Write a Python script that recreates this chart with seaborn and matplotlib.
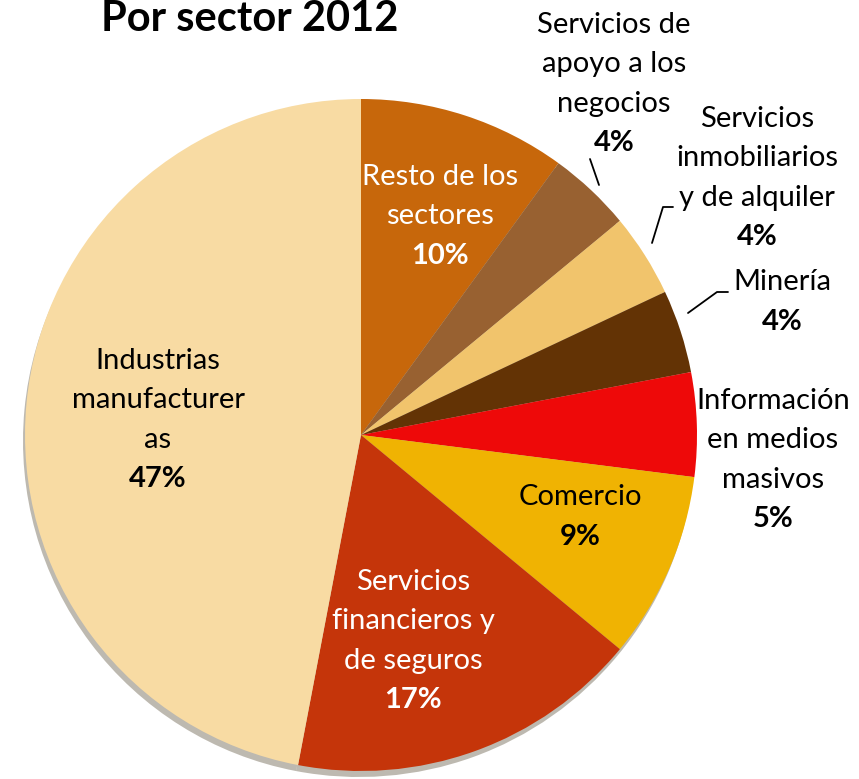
import matplotlib.pyplot as plt
import seaborn as sns

# ── Datos ───────────────────────────────────────────────────────────────────
sectores = ["Resto de los\nsectores", "Servicios de\napoyo a los\nnegocios",
            "Servicios\ninmobiliarios\ny de alquiler", "Minería",
            "Información\nen medios\nmasivos", "Comercio",
            "Servicios\nfinancieros y\nde seguros", "Industrias\nmanufacturer\nas"]
porcentajes = [10, 4, 4, 4, 5, 9, 17, 47]
colores = ["#C7670B", "#986131", "#F1C46C", "#633305",
           "#EE0909", "#F0B302", "#C5350A", "#F8DBA3"]

sns.set_theme(style="white")
plt.rcParams["font.family"] = ["Lato", "DejaVu Sans"]

fig = plt.figure(figsize=(8.59, 7.79), dpi=100)
ax = fig.add_axes([0, 0, 1, 1])

# sombra
ax.pie(porcentajes, colors=["#6e6450"] * len(porcentajes), startangle=90,
       counterclock=False, center=(359, 338), radius=336,
       wedgeprops=dict(linewidth=0, alpha=0.45))
wedges, _ = ax.pie(porcentajes, colors=colores, startangle=90, counterclock=False,
                   center=(361, 344), radius=336,
                   wedgeprops=dict(linewidth=0))
ax.set_xlim(0, 859)
ax.set_ylim(0, 779)
ax.set_aspect("equal")
ax.axis("off")

# posiciones de etiquetas (px, desde arriba) y color del texto
pos = [(440, 216, "white"), (614, 84, "black"), (757, 178, "black"),
       (782, 302, "black"), (773, 460, "black"), (580, 517, "black"),
       (413, 641, "white"), (158, 420, "black")]

alto = 39.5
for nombre, p, (x, y, c) in zip(sectores, porcentajes, pos):
    lineas = nombre.split("\n")
    n = len(lineas)
    y0 = y - n * alto / 2
    for i, l in enumerate(lineas):
        ax.text(x, 779 - (y0 + i * alto), l, ha="center", va="center",
                fontsize=21, color=c)
    ax.text(x, 779 - (y0 + n * alto), f"{p}%", ha="center", va="center",
            fontsize=21, color=c, fontweight="bold")

# líneas guía
guias = [[(590, 159), (599, 185)],
         [(652, 243), (663, 207), (673, 207)],
         [(688, 313), (717, 292), (728, 292)]]
for g in guias:
    xs = [a for a, b in g]
    ys = [779 - b for a, b in g]
    ax.plot(xs, ys, color="black", lw=1.3)

ax.text(250, 779 - 31, "Por sector 2012", ha="center", va="baseline",
        fontsize=30, fontweight="bold", color="black")

fig.savefig("out.png", dpi=100)
